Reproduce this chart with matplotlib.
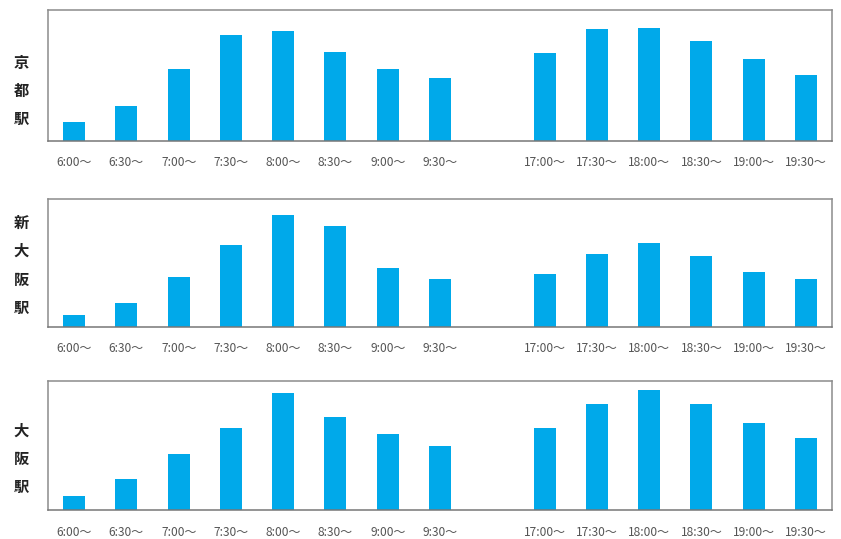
import matplotlib.pyplot as plt
import numpy as np

plt.rcParams['font.family'] = ['Noto Sans CJK JP', 'DejaVu Sans']

morning = ["6:00～", "6:30～", "7:00～", "7:30～", "8:00～", "8:30～", "9:00～", "9:30～"]
evening = ["17:00～", "17:30～", "18:00～", "18:30～", "19:00～", "19:30～"]

stations = ["京都駅", "新大阪駅", "大阪駅"]

kyoto = [18, 34, 71, 105, 109, 88, 71, 62, 87, 111, 112, 99, 81, 65]
shin_osaka = [12, 24, 51, 83, 114, 103, 60, 48, 54, 74, 85, 72, 56, 48]
osaka = [15, 32, 57, 83, 118, 94, 77, 65, 83, 107, 121, 107, 88, 73]

BAR_COLOR = "#00A9EA"
FRAME_COLOR = "#8c8c8c"

# morning slots, one blank slot, then evening slots
x = np.r_[np.arange(len(morning)), np.arange(len(evening)) + len(morning) + 1]
labels = morning + evening

fig = plt.figure(figsize=(8.41, 5.39), dpi=100)

# panel boxes in figure fractions: (bottom, height), plus station label height
panels = [(0.7393, 0.2421, 0.38), (0.3942, 0.2365, 0.48), (0.0529, 0.2403, 0.40)]
series = [kyoto, shin_osaka, osaka]

for (bottom, height, label_y), name, values in zip(panels, stations, series):
    ax = fig.add_axes([48 / 841, bottom, (832 - 48) / 841, height])
    ax.bar(x, values, width=0.42, color=BAR_COLOR)
    ax.set_xlim(-0.5, x[-1] + 0.5)
    ax.set_ylim(0, 130)
    ax.set_yticks([])
    ax.set_xticks(x)
    ax.set_xticklabels(labels, fontsize=8.6, color="#555555")
    ax.tick_params(axis="x", length=0, pad=11)
    for side in ax.spines.values():
        side.set_color(FRAME_COLOR)
        side.set_linewidth(1.1)
    ax.spines["bottom"].set_color("#777777")

    ax.text(-27 / 784, label_y, "\n".join(name), transform=ax.transAxes,
            ha="center", va="center", fontsize=11, fontweight="bold",
            color="#222222", linespacing=1.95)

fig.savefig("out.png", dpi=100)
